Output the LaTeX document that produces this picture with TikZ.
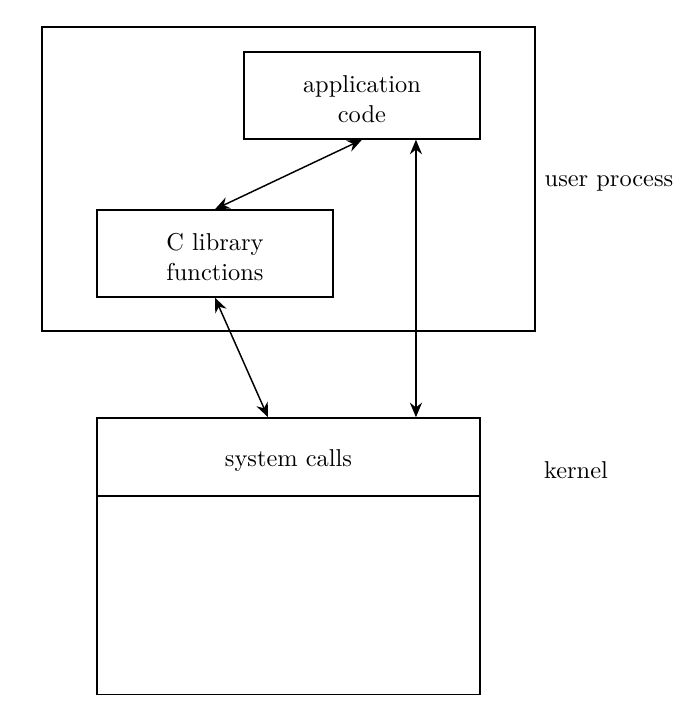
\documentclass[tikz,border=0pt]{standalone}
\usepackage{tikz}
\usetikzlibrary{shapes.geometric, arrows, arrows.meta}
\tikzstyle{region} = [rectangle, minimum width=7.1cm, minimum height=4.38cm, draw=black, semithick]
\tikzstyle{process} = [rectangle, minimum width=3.4cm, minimum height=1.254cm, text centered, text width=3cm, draw=black, semithick]
\tikzstyle{kpart} = [rectangle, minimum width=5.519cm, text centered, draw=black, semithick]
\tikzstyle{arrow} = [semithick,<->,>={Stealth[length=6pt,width=5pt,inset=2pt]}]

\begin{document}
\begin{tikzpicture}
\useasboundingbox (0,0) rectangle (9.929,-10.145);
\node (user) [region] at (4.157,-2.579) {};
\node (app) [process, text height=2.3ex] at (5.216,-1.376) {application\\code};
\node (clib) [process, text height=2.3ex] at (3.098,-3.653) {C library\\functions};
\node (sys) [kpart, minimum height=1.124cm, text height=2.3ex] at (4.157,-6.585) {system calls};
\node (kbody) [kpart, minimum height=2.853cm, anchor=north] at ([yshift=0.3pt]sys.south) {};
\node (userlbl) at (8.776,-2.637) {user process};
\node (kernlbl) at (8.30,-6.773) {kernel};
\coordinate (vtop) at ([xshift=0.778cm]app.south);

\draw [arrow] (app.south) -- (clib.north);
\draw [arrow] (clib.south) -- ([xshift=-0.295cm]sys.north);
\draw [arrow] (vtop) -- (vtop |- sys.north);
\end{tikzpicture}
\end{document}
